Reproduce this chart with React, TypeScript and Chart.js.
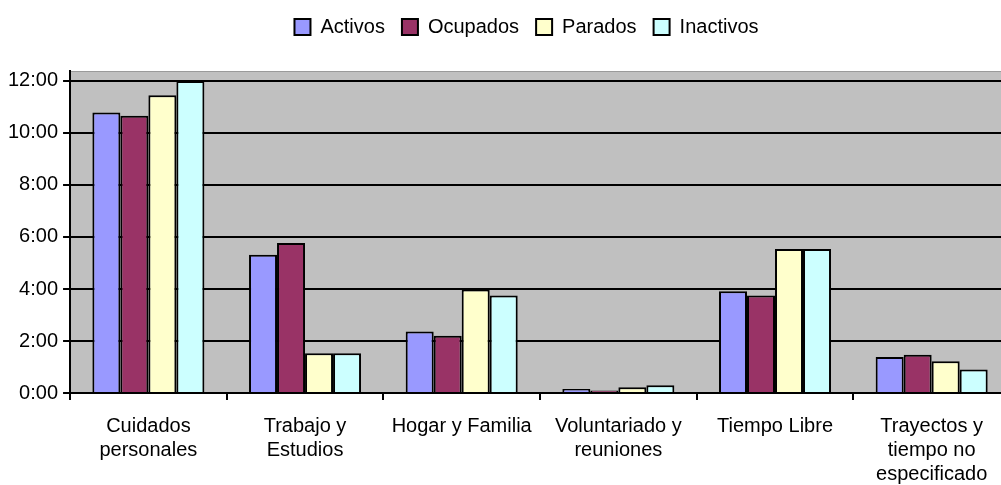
import React, { useEffect, useRef } from 'react';
import { Chart, registerables } from 'chart.js';

Chart.register(...registerables);

// ---- data (minutes) ----
const categories: (string | string[])[] = [
  ['Cuidados', 'personales'],
  ['Trabajo y', 'Estudios'],
  'Hogar y Familia',
  ['Voluntariado y', 'reuniones'],
  'Tiempo Libre',
  ['Trayectos y', 'tiempo no', 'especificado'],
];
const seriesNames = ['Activos', 'Ocupados', 'Parados', 'Inactivos'];
const activos = [647, 319, 142, 9, 235, 83];
const ocupados = [640, 346, 132, 6, 225, 88];
const parados = [687, 92, 239, 13, 332, 73];
const inactivos = [720, 92, 225, 18, 332, 54];
const seriesColors = ['#9999FF', '#993366', '#FFFFCC', '#CCFFFF'];
const yTickValues = [0, 120, 240, 360, 480, 600, 720];
const yMax = 743;

const FONT = '"Liberation Sans", Arial, sans-serif';

const fmt = (v: number) => `${Math.floor(v / 60)}:${String(Math.round(v % 60)).padStart(2, '0')}`;

const plotBg = {
  id: 'plotBg',
  beforeDraw(chart: any) {
    const { ctx, chartArea } = chart;
    if (!chartArea) return;
    ctx.save();
    ctx.fillStyle = '#C0C0C0';
    ctx.fillRect(chartArea.left, chartArea.top, chartArea.right - chartArea.left, chartArea.bottom - chartArea.top);
    ctx.strokeStyle = '#9a9a9a';
    ctx.lineWidth = 1;
    ctx.beginPath();
    ctx.moveTo(chartArea.left, chartArea.top + 0.5);
    ctx.lineTo(chartArea.right, chartArea.top + 0.5);
    ctx.stroke();
    ctx.restore();
  },
};

const legendTweak = {
  id: 'legendTweak',
  beforeLayout(chart: any) {
    const lg = chart.legend;
    if (lg && !lg._patched) {
      const orig = lg.fit;
      lg.fit = function () {
        orig.call(this);
        this.height += 24;
      };
      lg._patched = true;
    }
  },
  afterLayout(chart: any) {
    const lg = chart.legend;
    if (lg) {
      lg.left += 20;
      lg.right += 20;
    }
  },
};

export default function App() {
  const ref = useRef<HTMLCanvasElement | null>(null);
  useEffect(() => {
    if (!ref.current) return;
    const dataArrays = [activos, ocupados, parados, inactivos];
    const chart = new Chart(ref.current, {
      type: 'bar',
      data: {
        labels: categories,
        datasets: seriesNames.map((name, i) => ({
          label: name,
          data: dataArrays[i],
          backgroundColor: seriesColors[i],
          borderColor: '#000',
          borderWidth: 2,
          barPercentage: 1,
          categoryPercentage: 0.715,
        })),
      },
      options: {
        responsive: false,
        animation: false,
        layout: { padding: { left: 3, right: 5, top: 0, bottom: 0 } },
        plugins: {
          legend: {
            position: 'top',
            labels: {
              boxWidth: 16,
              boxHeight: 16,
              padding: 17,
              color: '#000',
              font: { family: FONT, size: 20 },
            },
          },
          tooltip: { enabled: false },
        },
        scales: {
          x: {
            afterFit: (s: any) => {
              s.height = 92;
            },
            grid: {
              display: true,
              drawOnChartArea: false,
              drawTicks: true,
              tickLength: 7,
              color: '#000',
              lineWidth: 2,
              offset: true,
            },
            border: { display: true, color: '#000', width: 2 },
            ticks: {
              color: '#000',
              font: { family: FONT, size: 20, lineHeight: 1.2 },
              padding: 14,
              maxRotation: 0,
              autoSkip: false,
            },
          },
          y: {
            min: 0,
            max: yMax,
            afterBuildTicks: (s: any) => {
              s.ticks = yTickValues.map((v) => ({ value: v }));
            },
            grid: { color: '#000', lineWidth: 2, tickLength: 7, drawTicks: true },
            border: { display: true, color: '#000', width: 2 },
            ticks: {
              color: '#000',
              font: { family: FONT, size: 20 },
              padding: 5,
              callback: (v: any) => fmt(Number(v)),
            },
          },
        },
      },
      plugins: [plotBg, legendTweak],
    });
    return () => chart.destroy();
  }, []);
  return (
    <div style={{ position: 'absolute', left: 0, top: 0, width: 1001, height: 485, overflow: 'hidden', background: '#fff' }}>
      <canvas ref={ref} width={1015} height={485} />
    </div>
  );
}
